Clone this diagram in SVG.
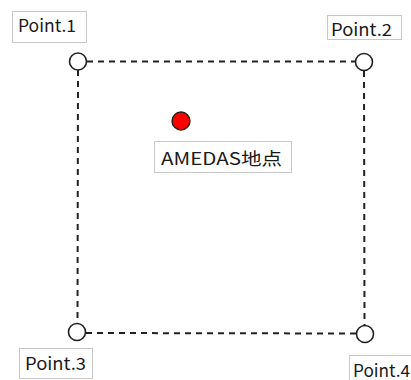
<svg xmlns="http://www.w3.org/2000/svg" width="411" height="380" viewBox="0 0 411 380">
  <style>
    .label-box { fill: #ffffff; stroke: #c8c8c8; stroke-width: 1; }
    .label { font-family: "Noto Sans CJK JP", "Liberation Sans", sans-serif; font-size: 17px; fill: #1a1a1a; }
    .point { fill: #ffffff; stroke: #222222; stroke-width: 1.6; }
    .edge { fill: none; stroke: #222222; stroke-width: 2; stroke-dasharray: 6 5; }
  </style>
  <rect width="411" height="380" fill="#ffffff"/>

  <!-- dashed grid cell -->
  <g id="connectors">
    <line class="edge" x1="87" y1="61.5" x2="355" y2="61.5"/>
    <line class="edge" x1="78" y1="70" x2="77.5" y2="323"/>
    <line class="edge" x1="364" y1="71" x2="364.5" y2="325"/>
    <line class="edge" x1="86" y1="333" x2="356" y2="333.5"/>
  </g>

  <g id="point1">
    <rect class="label-box" x="12.5" y="11.5" width="74" height="31"/>
    <text class="label" x="18" y="32" textLength="58" lengthAdjust="spacingAndGlyphs">Point.1</text>
    <circle class="point" cx="78" cy="61.5" r="8.5"/>
  </g>

  <g id="point2">
    <rect class="label-box" x="327.5" y="15.5" width="74" height="24"/>
    <text class="label" x="331" y="36" textLength="61" lengthAdjust="spacingAndGlyphs">Point.2</text>
    <circle class="point" cx="364" cy="62" r="8.5"/>
  </g>

  <g id="point3">
    <rect class="label-box" x="19.5" y="348.5" width="73" height="30"/>
    <text class="label" x="25" y="370" textLength="61" lengthAdjust="spacingAndGlyphs">Point.3</text>
    <circle class="point" cx="77" cy="332" r="8.5"/>
  </g>

  <g id="point4">
    <rect class="label-box" x="349.5" y="355.5" width="70" height="30"/>
    <text class="label" x="353" y="377" textLength="57" lengthAdjust="spacingAndGlyphs">Point.4</text>
    <circle class="point" cx="365" cy="334" r="8.5"/>
  </g>

  <g id="amedas">
    <circle cx="181" cy="121" r="9" fill="#ff0000" stroke="#222222" stroke-width="1.4"/>
    <rect class="label-box" x="154.5" y="141.5" width="137" height="31"/>
    <text class="label" x="161" y="165" textLength="121" lengthAdjust="spacingAndGlyphs">AMEDAS地点</text>
  </g>
</svg>
